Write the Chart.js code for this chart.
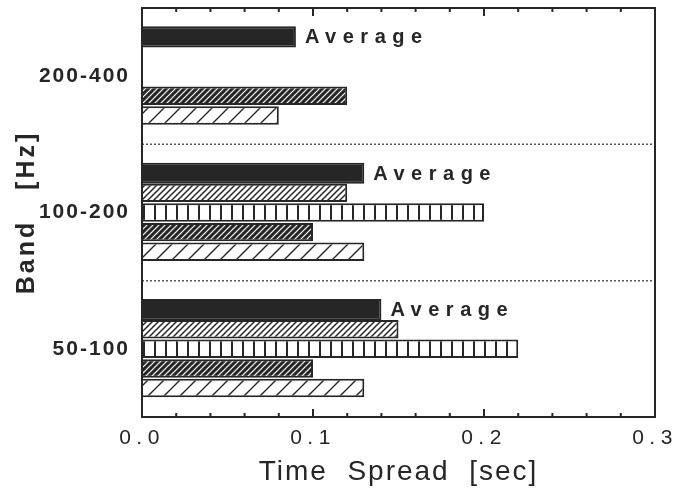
<!DOCTYPE html>
<html>
<head>
<meta charset="utf-8">
<script src="https://cdn.jsdelivr.net/npm/chart.js@4"></script>
<style>
  html, body { margin: 0; padding: 0; background: #fff; }
  #wrap { width: 679px; height: 493px; }
</style>
</head>
<body>
<div id="wrap"><canvas id="myChart"></canvas></div>
<script>
// bands (top to bottom) and time spread per bar type [sec]
const bands = ['200-400', '100-200', '50-100'];
const average = [0.09, 0.13, 0.14];
const lightHatch = [null, 0.12, 0.15];
const verticalBars = [null, 0.20, 0.22];
const denseHatch = [0.12, 0.10, 0.10];
const sparseHatch = [0.08, 0.13, 0.13];
const xTicks = ['0.0', '0.1', '0.2', '0.3'];

const ink = '#262626';
const fontFamily = '"Liberation Sans", Arial, sans-serif';

// letter spacing of the old typeset figure, per scale part
const tracking = {
    x: { labels: 5.5, title: 2 },
    y: { labels: 2, title: 3 }
};

// make a fill pattern from a small tile
function makePattern(size, draw) {
    const c = document.createElement('canvas');
    c.width = size;
    c.height = size;
    const g = c.getContext('2d');
    draw(g, size);
    return g.createPattern(c, 'repeat');
}

function diagonal(spacing, bg, fg, width) {
    return makePattern(spacing, function(g, s) {
        g.fillStyle = bg;
        g.fillRect(0, 0, s, s);
        g.strokeStyle = fg;
        g.lineWidth = width;
        g.beginPath();
        g.moveTo(-1, s + 1); g.lineTo(s + 1, -1);
        g.moveTo(-s - 1, s + 1); g.lineTo(1, -1);
        g.moveTo(s - 1, s + 1); g.lineTo(2 * s + 1, -1);
        g.stroke();
    });
}

const pLight = diagonal(6, '#fff', ink, 1.5);
const pDense = diagonal(6, ink, '#fff', 1.2);
const pSparse = diagonal(16, '#fff', ink, 1.4);
const pVertical = makePattern(11, function(g, s) {
    g.fillStyle = '#fff';
    g.fillRect(0, 0, s, s);
    g.fillStyle = ink;
    g.fillRect(0, 0, 2, s);
});

// wrap the scale text drawing so it gets letter spacing
const trackingPlugin = {
    id: 'tracking',
    beforeDraw(chart) {
        Object.keys(tracking).forEach(function(id) {
            const s = chart.scales[id];
            if (!s || s._tracked) return;
            s._tracked = true;
            const proto = Object.getPrototypeOf(s);
            s.drawLabels = function(area) {
                chart.ctx.letterSpacing = tracking[id].labels + 'px';
                proto.drawLabels.call(this, area);
                chart.ctx.letterSpacing = '0px';
            };
            s.drawTitle = function() {
                chart.ctx.letterSpacing = tracking[id].title + 'px';
                proto.drawTitle.call(this);
                chart.ctx.letterSpacing = '0px';
            };
        });
    }
};

// dotted separators, inner tick marks, frame and the "Average" notes
const framePlugin = {
    id: 'frame',
    afterDatasetsDraw(chart) {
        const ctx = chart.ctx;
        const a = chart.chartArea;
        const x = chart.scales.x;
        const y = chart.scales.y;
        ctx.save();
        ctx.strokeStyle = '#555';
        ctx.lineWidth = 1.5;
        ctx.setLineDash([2, 2]);
        for (let i = 0; i < bands.length - 1; i++) {
            const py = (y.getPixelForValue(i) + y.getPixelForValue(i + 1)) / 2;
            ctx.beginPath();
            ctx.moveTo(a.left, py);
            ctx.lineTo(a.right, py);
            ctx.stroke();
        }
        ctx.setLineDash([]);
        ctx.strokeStyle = ink;
        ctx.lineWidth = 2;
        x.ticks.forEach(function(t) {
            const px = x.getPixelForValue(t.value);
            const major = Math.round(t.value * 100) % 10 === 0;
            const len = major ? 8 : 4;
            ctx.beginPath();
            ctx.moveTo(px, a.bottom);
            ctx.lineTo(px, a.bottom - len);
            ctx.moveTo(px, a.top);
            ctx.lineTo(px, a.top + len);
            ctx.stroke();
        });
        ctx.strokeRect(a.left, a.top, a.right - a.left, a.bottom - a.top);

        const meta = chart.getDatasetMeta(0);
        ctx.fillStyle = ink;
        ctx.font = 'bold 20px ' + fontFamily;
        ctx.textBaseline = 'middle';
        ctx.letterSpacing = '6.5px';
        meta.data.forEach(function(bar) {
            ctx.fillText('Average', bar.x + 9, bar.y + 1);
        });
        ctx.restore();
    }
};

const ctx = document.getElementById('myChart').getContext('2d');
const myChart = new Chart(ctx, {
    type: 'bar',
    data: {
        labels: bands,
        datasets: [
            { label: 'Average', data: average, backgroundColor: ink, barPercentage: 1.08 },
            { label: 'a', data: lightHatch, backgroundColor: pLight },
            { label: 'b', data: verticalBars, backgroundColor: pVertical },
            { label: 'c', data: denseHatch, backgroundColor: pDense },
            { label: 'd', data: sparseHatch, backgroundColor: pSparse }
        ].map(function(d) {
            return Object.assign({
                borderColor: ink,
                borderWidth: 2,
                barPercentage: 0.94,
                categoryPercentage: 0.72
            }, d);
        })
    },
    options: {
        indexAxis: 'y',
        responsive: true,
        maintainAspectRatio: false,
        animation: false,
        layout: { padding: { top: 8, right: 24, left: 0, bottom: 0 } },
        plugins: {
            legend: { display: false },
            tooltip: { enabled: false }
        },
        scales: {
            x: {
                min: 0,
                max: 0.3,
                grid: { display: false, drawTicks: false },
                border: { display: false },
                ticks: {
                    stepSize: 0.02,
                    autoSkip: false,
                    maxRotation: 0,
                    padding: 9,
                    color: ink,
                    font: { family: fontFamily, size: 21 },
                    callback: function(v) {
                        const k = Math.round(v * 100);
                        return k % 10 === 0 ? xTicks[k / 10] : '';
                    }
                },
                title: {
                    display: true,
                    text: 'Time  Spread  [sec]',
                    color: ink,
                    font: { family: fontFamily, size: 28 },
                    padding: { top: 0, bottom: 4 }
                },
                afterFit: function(s) {
                    s.height = 76;
                    s.paddingLeft = 0;
                    s.paddingRight = 0;
                }
            },
            y: {
                grid: { display: false, drawTicks: false },
                border: { display: false },
                ticks: {
                    padding: 12,
                    color: ink,
                    font: { family: fontFamily, size: 21, weight: 'bold' }
                },
                title: {
                    display: true,
                    text: 'Band   [Hz]',
                    color: ink,
                    font: { family: fontFamily, size: 25, weight: 'bold' },
                    padding: { top: 12 }
                },
                afterFit: function(s) {
                    s.width = 142;
                    s.paddingTop = 0;
                    s.paddingBottom = 0;
                }
            }
        }
    },
    plugins: [trackingPlugin, framePlugin]
});
</script>
</body>
</html>
